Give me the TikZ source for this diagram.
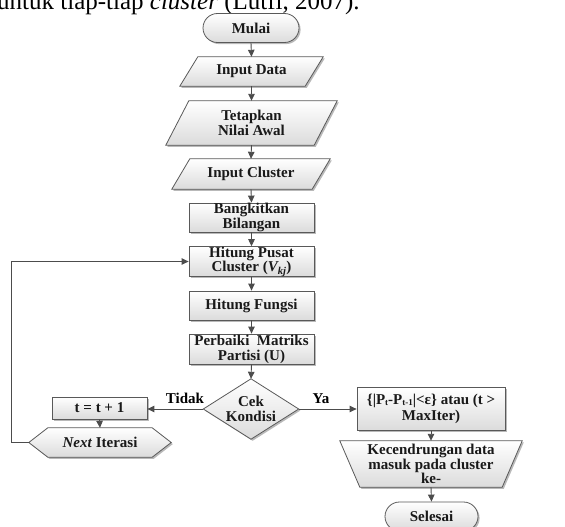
\documentclass[tikz,border=0pt]{standalone}
\usepackage{fontspec}
\setmainfont{Liberation Serif}
\usetikzlibrary{arrows.meta,shapes.misc,shadows,backgrounds}
\newcommand\drawpara[2]{\path[look] ([xshift=#2]#1.north west) -- ([xshift=#2]#1.north east) -- ([xshift=-#2]#1.south east) -- ([xshift=-#2]#1.south west) -- cycle;}
\begin{document}
\begin{tikzpicture}[x=1pt,y=-1pt,
  txt/.style={font=\fontsize{15}{14.8}\selectfont\bfseries, align=center, inner sep=0pt, text=black!90},
  look/.style={draw=black!65, line width=0.8pt, top color=white, bottom color=black!14,
    drop shadow={shadow xshift=1.6pt, shadow yshift=-1.6pt, fill=black!50, opacity=0.55}},
  procbox/.style={txt, look, rectangle, minimum height=29pt},
  term/.style={txt, look, rounded rectangle, minimum height=29pt},
  ghost/.style={txt, rectangle},
  arr/.style={draw=black!70, line width=0.9pt, -{Triangle[length=7pt,width=6.5pt]}},
  lbl/.style={font=\fontsize{15}{14.8}\selectfont\bfseries, inner sep=0pt, anchor=south}
]
\useasboundingbox (0,0) rectangle (565,527);
\clip (0,0) rectangle (565,527);

% cut-off body text line
\node[font=\fontsize{25}{28}\selectfont, anchor=base west, inner sep=0pt] (body) at (-3,9.5)
  {untuk tiap-tiap \textit{cluster} (Lutfi, 2007).};

% main column
\node[term, minimum width=96pt] (mulai) at (251,28) {Mulai};
\node[ghost, minimum width=125pt, minimum height=29pt] (indata) at (251.5,71.5) {Input Data};
\node[ghost, minimum width=148pt, minimum height=44pt] (tetap) at (251.5,123) {Tetapkan\\Nilai Awal};
\node[ghost, minimum width=140pt, minimum height=30pt] (incl) at (251,174) {Input Cluster};
\node[procbox, minimum width=125pt] (bang) at (251.5,217.5) {Bangkitkan\\Bilangan};
\node[procbox, minimum width=125pt] (pusat) at (251.5,261.5) {Hitung Pusat\\Cluster (\textit{V\textsubscript{kj}})};
\node[procbox, minimum width=125pt] (fungsi) at (251.5,305.5) {Hitung Fungsi};
\node[procbox, minimum width=125pt, minimum height=30pt] (perb) at (251.5,349) {Perbaiki~~Matriks\\Partisi (U)};
\node[ghost, minimum width=95pt, minimum height=60pt] (cek) at (251,409) {Cek\\Kondisi};

% left branch
\node[procbox, minimum width=95pt, minimum height=22pt] (tinc) at (99.5,408) {t = t + 1};
\node[ghost, minimum width=142pt, minimum height=29pt] (next) at (100,442.5) {\textit{Next} Iterasi};
\coordinate (lx) at (11,0);

% right branch
\node[procbox, minimum width=148pt, minimum height=43pt, font=\fontsize{15}{16.5}\selectfont\bfseries] (kond) at (431,409)
  {\{|P{\fontsize{9}{9}\selectfont\raisebox{-1.5pt}{t}}-P{\fontsize{9}{9}\selectfont\raisebox{-1.5pt}{t-1}}|<ε\} atau (t >\\MaxIter)};
\node[ghost, minimum width=182pt, minimum height=46pt] (kec) at (431,464) {Kecendrungan data\\masuk pada cluster\\ke-};
\node[term, minimum width=93pt] (selesai) at (431.5,516.5) {Selesai};

% custom shapes behind text
\begin{pgfonlayer}{background}
\drawpara{indata}{9pt}
\drawpara{tetap}{11.5pt}
\drawpara{incl}{9pt}
\path[look] (cek.north) -- (cek.east) -- (cek.south) -- (cek.west) -- cycle;
\path[look] (next.west) -- ([xshift=19pt]next.north west) -- ([xshift=-19pt]next.north east) -- (next.east)
  -- ([xshift=-19pt]next.south east) -- ([xshift=19pt]next.south west) -- cycle;
\path[look] (kec.north west) -- (kec.north east) -- ([xshift=-20pt]kec.south east) -- ([xshift=20pt]kec.south west) -- cycle;
\end{pgfonlayer}

% connectors
\draw[arr] (mulai.south) -- (indata.north);
\draw[arr] (indata.south) -- (tetap.north);
\draw[arr] (tetap.south) -- (incl.north);
\draw[arr] (incl.south) -- (bang.north);
\draw[arr] (bang.south) -- (pusat.north);
\draw[arr] (pusat.south) -- (fungsi.north);
\draw[arr] (fungsi.south) -- (perb.north);
\draw[arr] (perb.south) -- (cek.north);
\draw[arr] (cek.west) -- (cek.west -| tinc.east);
\draw[arr] (tinc.south) -- (next.north);
\draw[arr] (next.west) -- (next.west -| lx) |- (pusat.west);
\draw[arr] (cek.east) -- (cek.east -| kond.west);
\draw[arr] (kond.south) -- (kec.north);
\draw[arr] (kec.south) -- (selesai.north);

% branch labels
\node[lbl] (tidak) at (185,404) {Tidak};
\node[lbl] (ya) at (321,404) {Ya};
\end{tikzpicture}
\end{document}
